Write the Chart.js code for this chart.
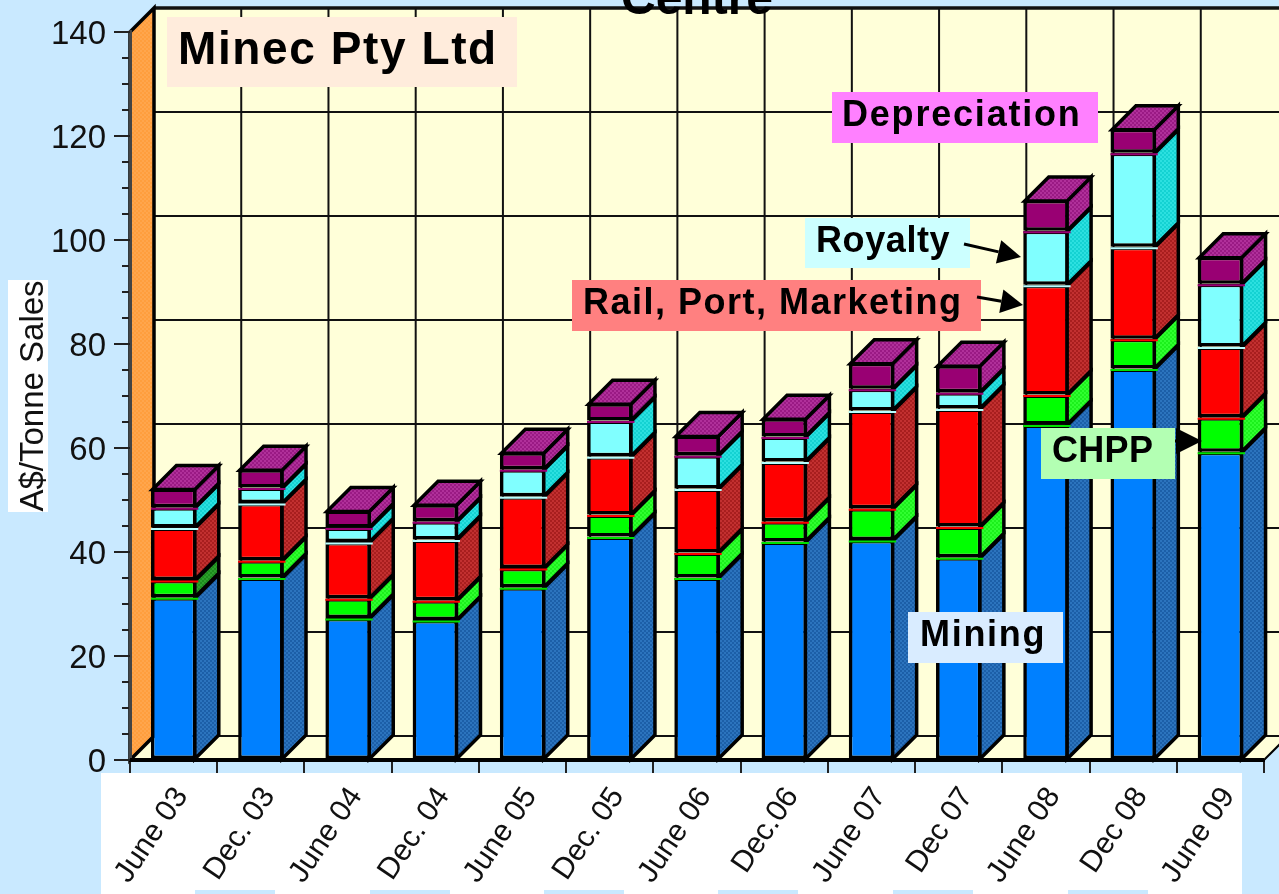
<!DOCTYPE html>
<html><head><meta charset="utf-8">
<style>html,body{margin:0;padding:0;background:#C9E9FF;overflow:hidden}canvas{display:block}</style>
<script src="https://cdn.jsdelivr.net/npm/chart.js@4"></script>
</head><body><canvas id="c" width="1279" height="894"></canvas>
<script>
const categories=['June 03','Dec. 03','June 04','Dec. 04','June 05','Dec. 05','June 06','Dec.06','June 07','Dec 07','June 08','Dec 08','June 09'];
const mining=[31.3,35.1,27.3,26.9,33.2,43,35.1,42,42.3,39,64.5,75.3,59.3];
const chpp=[3.3,3.3,3.8,3.8,3.7,4.2,4.8,3.9,6.1,5.9,5.8,5.7,6.6];
const rail=[10.1,11,10.8,11.7,13.8,11.2,12.3,11.5,18.8,22.7,21.1,17.7,13.6];
const royalty=[3.9,3,2.8,3.5,5.2,6.9,6.4,4.8,4.2,3.1,10.4,18.1,12.1];
const depreciation=[3.6,3.5,3.3,3.3,3.3,3.3,3.8,3.5,5,5.2,5.9,4.6,5.2];
const seriesNames=['Mining','CHPP','Rail, Port, Marketing','Royalty','Depreciation'];
const frontColors=['#0080FF','#00FF00','#FF0000','#80FFFF','#990073'];
const sideColors=[['#1C5FA8','#2C74BE'],['#1CF01C','#30FF30'],['#A81E1E','#C23030'],['#14D2D2','#2CE0E0'],['#9A1A84','#B0309A']];
const stripColors=['#00E000','#FF0000','#B8FFFF','#990073'];
const DX=24,DY=24;
function pat(ctx,a,b){const o=document.createElement('canvas');o.width=o.height=4;const g=o.getContext('2d');g.fillStyle=a;g.fillRect(0,0,4,4);g.fillStyle=b;g.fillRect(0,0,2,2);g.fillRect(2,2,2,2);return ctx.createPattern(o,'repeat');}
function line(ctx,x1,y1,x2,y2,w,c){ctx.beginPath();ctx.moveTo(x1,y1);ctx.lineTo(x2,y2);ctx.lineWidth=w;ctx.strokeStyle=c||'#000';ctx.stroke();}
function poly(ctx,pts,fill,w){ctx.beginPath();pts.forEach((p,i)=>i?ctx.lineTo(p[0],p[1]):ctx.moveTo(p[0],p[1]));ctx.closePath();if(fill){ctx.fillStyle=fill;ctx.fill();}if(w){ctx.lineWidth=w;ctx.strokeStyle='#000';ctx.lineJoin='miter';ctx.stroke();}}
const backdrop={id:'backdrop',beforeDraw(chart){
 const ctx=chart.ctx,a=chart.chartArea,y=chart.scales.y;ctx.save();
 const L=a.left,R=a.right,T=a.top,B=a.bottom;
 ctx.fillStyle='#C9E9FF';ctx.fillRect(0,0,1279,894);
 ctx.fillStyle='#FFFFD9';ctx.fillRect(L+DX,T-DY,R-L+60,B-T);
 poly(ctx,[[L,B],[L+DX,B-DY-1],[R+DX,B-DY-1],[R,B]],'#FFFFD9');
 for(let v=0;v<=140;v+=20){const p=y.getPixelForValue(v)-DY;line(ctx,L+DX,p,1279,p,v==140?3.5:2,'#111');}
 const step=(R-L)/categories.length;
 for(let i=0;i<=categories.length;i++){const p=L+DX+i*step;line(ctx,p,T-DY,p,B-DY,2,'#111');}
 poly(ctx,[[L,T],[L+DX,T-DY],[L+DX,B-DY],[L,B]],pat(ctx,'#FFA64D','#FF9E3D'),3.5);
 line(ctx,L,B,L+DX,B-DY,2);line(ctx,R,B,R+DX,B-DY,2);
 ctx.fillStyle='#fff';ctx.fillRect(101,773,1141,121);
 ctx.fillStyle='#C9E9FF';[195,370,544,718,893,1068].forEach(px=>ctx.fillRect(px,890,80,4));
 ctx.fillStyle='#fff';ctx.fillRect(8,280,40,232);
 ctx.restore();
},beforeDatasetsDraw(chart){
 const ctx=chart.ctx;ctx.save();
 chart.data.datasets.forEach((d,i)=>{const fill=pat(ctx,sideColors[i][0],sideColors[i][1]);
  chart.getDatasetMeta(i).data.forEach((b,j)=>{const r=b.x+b.width/2-1.5,l=b.x-b.width/2+1.5,t=b.y+1,bs=b.base;
   let f=fill;if(i==1&&j==0)f=pat(ctx,'#1E8C1E','#2CA02C');
   poly(ctx,[[r,bs],[r+DX,bs-DY],[r+DX,t-DY],[r,t]],f,3.5);
   if(i==4)poly(ctx,[[l,t],[l+DX,t-DY],[r+DX,t-DY],[r,t]],fill,3.5);
  });});
 ctx.restore();
},afterDatasetsDraw(chart){
 const ctx=chart.ctx,y=chart.scales.y;ctx.save();
 chart.data.datasets.forEach((d,i)=>{if(i==0)return;chart.getDatasetMeta(i).data.forEach(b=>{
  const yy=b.base+1.5;line(ctx,b.x-b.width/2,yy,b.x+b.width/2+2,yy,2,stripColors[i-1]);});});
 for(let v=0;v<=140;v+=20){const p=y.getPixelForValue(v);line(ctx,chart.chartArea.left-16,p,chart.chartArea.left,p,2,'#222');}
 line(ctx,chart.chartArea.left,chart.chartArea.bottom,chart.chartArea.right,chart.chartArea.bottom,4);
 const boxes=[
  ['Minec Pty Ltd',167,17,350,70,'#FFECDC',46,178,1.6],
  ['Depreciation',832,92,266,51,'#FF80FF',36,842,1.8],
  ['Royalty',805,218,165,50,'#CCFFFF',36,816,0.6],
  ['Rail, Port, Marketing',572,280,409,51,'#FF8080',36,583,1.5],
  ['CHPP',1041,428,134,51,'#B3FFB3',36,1052,0.3],
  ['Mining',908,612,155,51,'#D9ECFF',36,920,1.7]];
 boxes.forEach(([t,x,yy,w,h,c,fs,tx,ls])=>{ctx.fillStyle=c;ctx.fillRect(x,yy,w,h);ctx.fillStyle='#000';
  ctx.font='bold '+fs+'px "Liberation Sans",Arial,sans-serif';ctx.letterSpacing=ls+'px';ctx.textAlign='left';ctx.textBaseline='middle';ctx.fillText(t,tx,yy+h/2-1);});
 ctx.letterSpacing='0px';
 const arrow=(x1,y1,x2,y2,hl,hw)=>{const an=Math.atan2(y2-y1,x2-x1),cx=x2-hl*Math.cos(an),cy=y2-hl*Math.sin(an);
  line(ctx,x1,y1,cx,cy,3);poly(ctx,[[x2,y2],[cx-hw*Math.sin(an),cy+hw*Math.cos(an)],[cx+hw*Math.sin(an),cy-hw*Math.cos(an)]],'#000');};
 arrow(964,244,1021,257,23,12);arrow(977,297,1023,305,22,12);arrow(1175,441,1202,441,26,13);
 ctx.restore();
}};
new Chart(document.getElementById('c'),{type:'bar',
 data:{labels:categories,datasets:[mining,chpp,rail,royalty,depreciation].map((v,i)=>({label:seriesNames[i],data:v,backgroundColor:frontColors[i],borderColor:'#000',borderWidth:3.5,borderSkipped:false,barPercentage:0.52,categoryPercentage:1}))},
 plugins:[backdrop],
 options:{responsive:false,animation:false,devicePixelRatio:1,
  layout:{padding:{left:0,right:15,top:0,bottom:0}},
  plugins:{legend:{display:false},tooltip:{enabled:false},
   title:{display:true,text:'Centre',fullSize:false,color:'#000',font:{family:'"Liberation Sans",Arial,sans-serif',size:48,weight:'bold',lineHeight:1.2},padding:{top:-28,bottom:2.4}}},
  scales:{
   x:{stacked:true,offset:true,afterFit(s){s.height=134;s.paddingLeft=0;s.paddingRight=0;},
    grid:{drawOnChartArea:false,tickLength:13,color:'#222',lineWidth:2,offset:true},border:{color:'#000',width:3},
    ticks:{autoSkip:false,maxRotation:56,minRotation:56,labelOffset:8,padding:8,color:'#111',font:{family:'"Liberation Sans",Arial,sans-serif',size:30}}},
   y:{stacked:true,min:0,max:140,afterFit(s){s.width=130;s.paddingTop=0;s.paddingBottom=0;},
    title:{display:true,text:'A$/Tonne Sales',color:'#111',padding:{top:14,bottom:0},font:{family:'"Liberation Sans",Arial,sans-serif',size:33}},
    grid:{drawOnChartArea:false,tickLength:8,color:'#222',lineWidth:2},border:{color:'#444',width:3},
    ticks:{stepSize:5,autoSkip:false,padding:16,labelOffset:3,color:'#111',font:{family:'"Liberation Sans",Arial,sans-serif',size:33},callback:v=>v%20===0?v:''}}
  }}});
</script></body></html>
